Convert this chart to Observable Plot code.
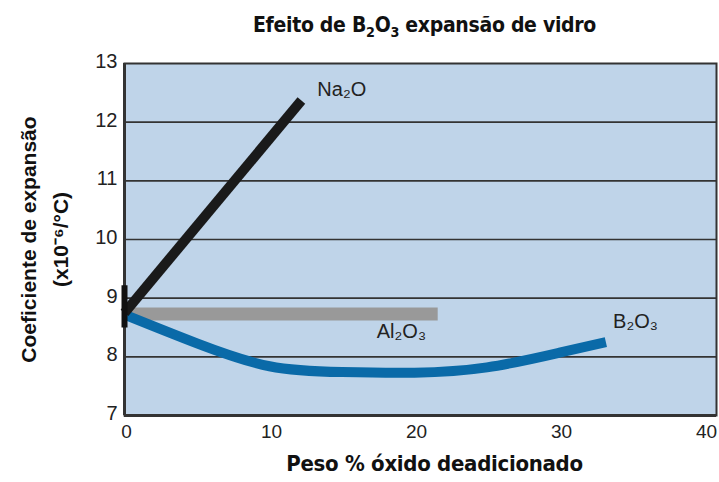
<!DOCTYPE html>
<html>
<head>
<meta charset="utf-8">
<script src="https://cdn.jsdelivr.net/npm/d3@7"></script>
<script src="https://cdn.jsdelivr.net/npm/@observablehq/plot@0.6"></script>
<style>
  body { margin: 0; background: #fff; width: 719px; height: 482px; overflow: hidden; font-family: "Liberation Sans", Arial, sans-serif; }
  #title { height: 48px; position: relative; }
  #title span { position: absolute; left: 0; width: 719px; padding-left: 130px; box-sizing: border-box; text-align: center; top: 13px; font-family: "DejaVu Sans Condensed", "DejaVu Sans", sans-serif; font-weight: bold; font-size: 21px; color: #111; letter-spacing: -0.3px; }
  #xlabel { position: absolute; top: 451px; left: 0; width: 719px; padding-left: 150px; box-sizing: border-box; text-align: center; font-family: "DejaVu Sans Condensed", "DejaVu Sans", sans-serif; font-weight: bold; font-size: 22px; color: #111; letter-spacing: -0.3px; }
  sub { font-size: 0.68em; vertical-align: -0.35em; line-height: 0; }
  #chart { position: absolute; top: 48px; left: 0; }
</style>
</head>
<body>
<div id="title"><span>Efeito de B<sub>2</sub>O<sub>3</sub> expansão de vidro</span></div>
<div id="chart"></div>
<div id="xlabel">Peso % óxido deadicionado</div>
<script>
// Data
const xTicks = [0, 10, 20, 30, 40];
const yTicks = [7, 8, 9, 10, 11, 12, 13];
const gridY = [8, 9, 10, 11, 12];

const na2oX = [0, 12.2];
const na2oY = [8.75, 12.37];

const al2o3X = [0, 21.6];
const al2o3Y = [8.73, 8.73];

const b2o3X = [0, 5, 10, 15, 20, 25, 30, 33.2];
const b2o3Y = [8.72, 8.23, 7.84, 7.74, 7.73, 7.82, 8.07, 8.25];

const barX = [0, 0];
const barY = [8.5, 9.22];

const labelNames = ["Na₂O", "Al₂O₃", "B₂O₃"];
const labelX = [13.3, 17.4, 33.7];
const labelY = [12.55, 8.43, 8.6];

const toPts = (xs, ys) => xs.map((x, i) => ({x, y: ys[i]}));
const labels = labelNames.map((t, i) => ({t, x: labelX[i], y: labelY[i]}));

const chart = Plot.plot({
  width: 719,
  height: 400,
  marginLeft: 124,
  marginRight: 3,
  marginTop: 15,
  marginBottom: 33,
  style: { fontFamily: "'Liberation Sans', Arial, sans-serif", fontSize: "20px", color: "#222", background: "transparent", overflow: "visible" },
  x: { domain: [0, 40.83], label: null },
  y: { domain: [7, 13], label: null },
  marks: [
    Plot.frame({ fill: "#bfd4e9", stroke: null }),
    Plot.ruleY(gridY, { stroke: "#333", strokeWidth: 1.6 }),
    Plot.frame({ stroke: "#333", strokeWidth: 2 }),
    Plot.ruleX([0], { stroke: "#333", strokeWidth: 3 }),
    Plot.ruleY([7], { stroke: "#333", strokeWidth: 3 }),
    Plot.line(toPts(al2o3X, al2o3Y), { x: "x", y: "y", stroke: "#999", strokeWidth: 13, strokeLinecap: "butt" }),
    Plot.line(toPts(b2o3X, b2o3Y), { x: "x", y: "y", stroke: "#0a6aa8", strokeWidth: 10, strokeLinecap: "butt", curve: "natural" }),
    Plot.line(toPts(na2oX, na2oY), { x: "x", y: "y", stroke: "#1a1a1a", strokeWidth: 10, strokeLinecap: "butt" }),
    Plot.line(toPts(barX, barY), { x: "x", y: "y", stroke: "#111", strokeWidth: 6, strokeLinecap: "butt" }),
    Plot.text(labels, { x: "x", y: "y", text: "t", textAnchor: "start", fontSize: 20, fill: "#222" }),
    Plot.axisX({ ticks: xTicks, tickFormat: d3.format("d"), tickSize: 0, tickPadding: 9, dx: 2, fontSize: 19, fill: "#222", label: null }),
    Plot.axisY({ ticks: yTicks, tickFormat: d3.format("d"), tickSize: 0, tickPadding: 7, dy: -2, fontSize: 20, fill: "#222", label: null }),
    Plot.text(["Coeficiente de expansão\n(x10⁻⁶/°C)"], { frameAnchor: "left", textAnchor: "middle", dx: -83, rotate: -90, fontSize: 21, fontWeight: "bold", lineHeight: 1.55, fill: "#111" })
  ]
});
document.getElementById("chart").appendChild(chart);
</script>
</body>
</html>
